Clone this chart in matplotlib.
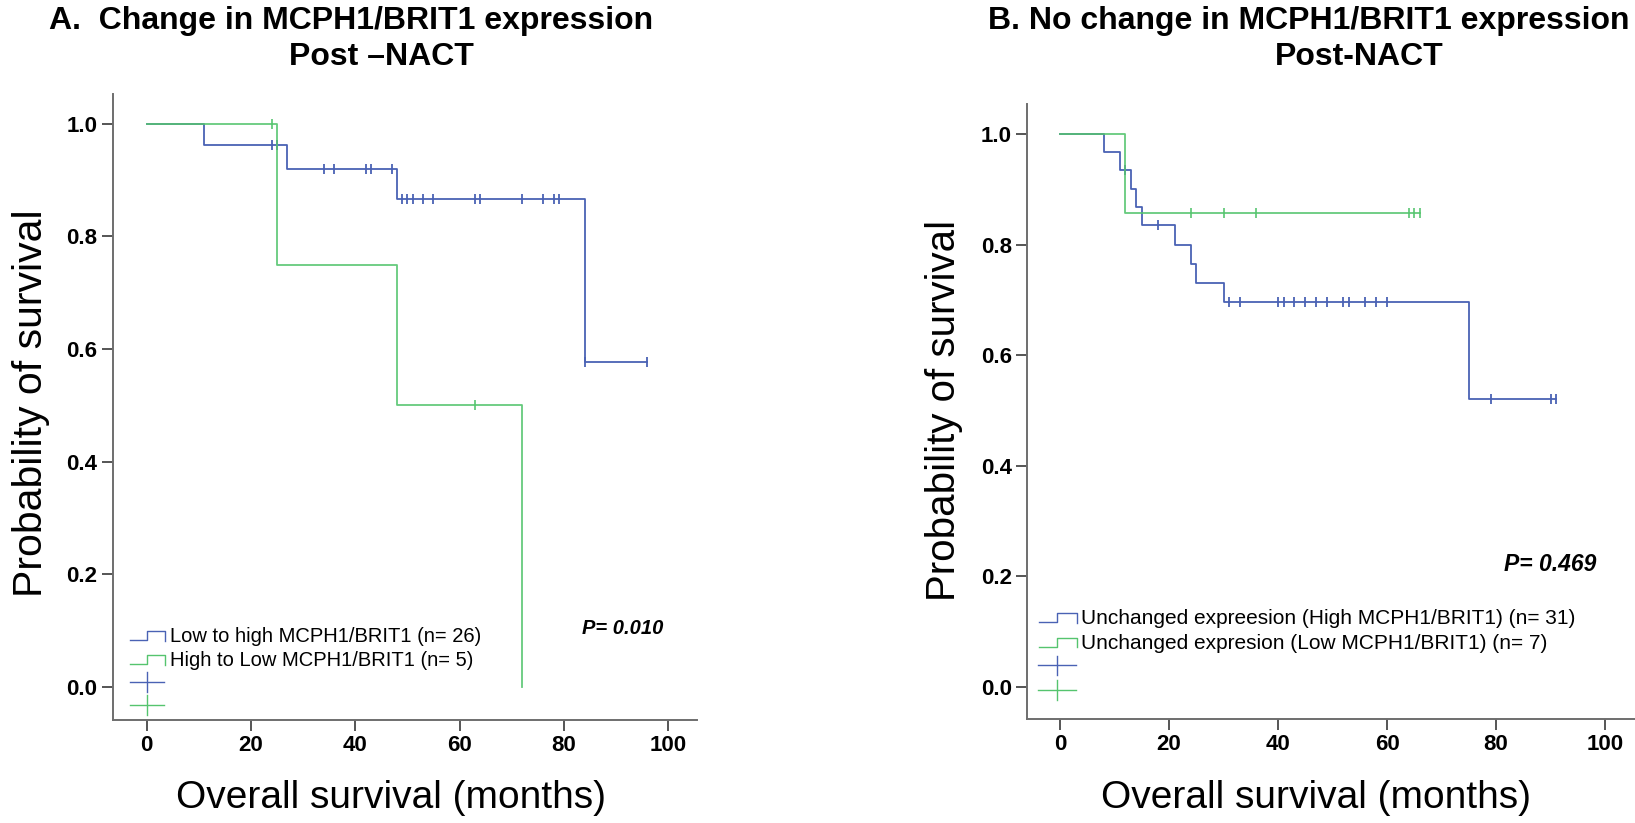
import numpy as np
import matplotlib
matplotlib.use("Agg")
import matplotlib.pyplot as plt

# ---- data -------------------------------------------------------------
# Panel A: change in MCPH1/BRIT1 expression post-NACT (time in months, 1 = death, 0 = censored)
a_low_high_time = [11, 24, 25, 27, 34, 36, 42, 43, 47, 48, 49, 49, 50, 51, 53, 55,
                   63, 64, 72, 76, 78, 78, 79, 84, 84, 96]
a_low_high_event = [1, 0, 0, 1, 0, 0, 0, 0, 0, 1, 0, 0, 0, 0, 0, 0,
                    0, 0, 0, 0, 0, 0, 0, 1, 0, 0]
a_high_low_time = [24, 25, 48, 63, 72]
a_high_low_event = [0, 1, 1, 0, 1]

# Panel B: no change in MCPH1/BRIT1 expression post-NACT
b_high_time = [8, 11, 12, 13, 14, 15, 18, 21, 24, 25, 30, 31, 31, 33, 40, 41, 41,
               43, 45, 47, 49, 52, 53, 53, 56, 58, 60, 75, 79, 90, 91]
b_high_event = [1, 1, 0, 1, 1, 1, 0, 1, 1, 1, 1, 0, 0, 0, 0, 0, 0,
                0, 0, 0, 0, 0, 0, 0, 0, 0, 0, 1, 0, 0, 0]
b_low_time = [12, 24, 30, 36, 64, 65, 66]
b_low_event = [1, 0, 0, 0, 0, 0, 0]

a_labels = ["Low to high MCPH1/BRIT1 (n= 26)", "High to Low MCPH1/BRIT1 (n= 5)"]
b_labels = ["Unchanged expreesion (High MCPH1/BRIT1) (n= 31)",
            "Unchanged expresion (Low MCPH1/BRIT1) (n= 7)"]
a_pvalue = "P= 0.010"
b_pvalue = "P= 0.469"

x_ticks = [0, 20, 40, 60, 80, 100]
y_ticks = [0.0, 0.2, 0.4, 0.6, 0.8, 1.0]

BLUE = "#4a62b4"
GREEN = "#55c46e"

plt.rcParams["font.family"] = ["Liberation Sans", "DejaVu Sans"]

W, H, DPI = 1635, 823, 100
fig = plt.figure(figsize=(W / DPI, H / DPI), dpi=DPI)


def px_box(left, right, bottom, top):
    return [left / W, 1 - bottom / H, (right - left) / W, (bottom - top) / H]


def kaplan_meier(times, events):
    t = np.asarray(times, float)
    e = np.asarray(events, int)
    xs, ys = [0.0], [1.0]
    cx, cy = [], []
    s = 1.0
    for u in np.unique(t):
        n = np.sum(t >= u)
        d = np.sum((t == u) & (e == 1))
        if d:
            s *= 1 - d / n
        xs.append(u)
        ys.append(s)
        if np.any((t == u) & (e == 0)):
            cx.append(u)
            cy.append(s)
    return xs, ys, cx, cy


def draw_curve(ax, times, events, color, alpha=1.0):
    xs, ys, cx, cy = kaplan_meier(times, events)
    ax.step(xs, ys, where="post", color=color, lw=1.3, alpha=alpha)
    ax.plot(cx, cy, ls="none", marker="|", ms=7, mew=1.3, color=color, alpha=alpha)


def style_axes(ax, xlim, ylim):
    ax.set_xlim(*xlim)
    ax.set_ylim(*ylim)
    for side in ("top", "right"):
        ax.spines[side].set_visible(False)
    for side in ("left", "bottom"):
        ax.spines[side].set_color("#6e6e6e")
        ax.spines[side].set_linewidth(1.4)
    ax.set_xticks(x_ticks, [str(v) for v in x_ticks], fontsize=16, fontweight="bold")
    ax.set_yticks(y_ticks, [f"{v:.1f}" for v in y_ticks], fontsize=16, fontweight="bold")
    ax.tick_params(direction="out", length=8, width=1.4, color="#555555", pad=3)
    ax.patch.set_alpha(0)


def draw_legend(ax, labels, colors, x0, xstep, x1, xtext, rows, plus_rows,
                plus_x, plus_hw, fontsize):
    for lab, col, y in zip(labels, colors, rows):
        lo, hi = y - 0.007, y + 0.009
        ax.plot([x0, xstep, xstep, x1, x1], [lo, lo, hi, hi, lo - 0.001],
                color=col, lw=1.0, clip_on=False)
        ax.text(xtext, y, lab, fontsize=fontsize, ha="left", va="center")
    for col, y in zip(colors, plus_rows):
        ax.plot([plus_x - plus_hw, plus_x + plus_hw], [y, y], color=col, lw=1.0,
                clip_on=False)
        ax.plot([plus_x, plus_x], [y - 0.018, y + 0.018], color=col, lw=1.0,
                clip_on=False)


# ---- panel A ------------------------------------------------------------
axA = fig.add_axes(px_box(112.6, 697, 719.5, 94))
style_axes(axA, (-6.5, 105.5), (-0.058, 1.053))
draw_curve(axA, a_low_high_time, a_low_high_event, BLUE)
draw_curve(axA, a_high_low_time, a_high_low_event, GREEN, alpha=0.9)
draw_legend(axA, a_labels, [BLUE, GREEN], -3.2, 0.1, 3.6, 4.5,
            [0.090, 0.047], [0.008, -0.032], 0.07, 3.3, 14.5)
axA.text(91.2, 0.104, a_pvalue, fontsize=14.5, fontweight="bold", style="italic",
         ha="center", va="center")

# ---- panel B ------------------------------------------------------------
axB = fig.add_axes(px_box(1027.4, 1635, 718.5, 104))
style_axes(axB, (-6, 105.5), (-0.057, 1.055))
draw_curve(axB, b_high_time, b_high_event, BLUE)
draw_curve(axB, b_low_time, b_low_event, GREEN, alpha=0.9)
draw_legend(axB, b_labels, [BLUE, GREEN], -3.8, -0.5, 3.1, 3.85,
            [0.1247, 0.0795], [0.039, -0.006], -0.5, 3.5, 15)
axB.text(89.9, 0.221, b_pvalue, fontsize=16.5, fontweight="bold", style="italic",
         ha="center", va="center")

# ---- titles and axis labels -----------------------------------------------
fig.text(351 / W, 1 - 21 / H, "A.  Change in MCPH1/BRIT1 expression",
         fontsize=23, fontweight="bold", ha="center", va="center")
fig.text(381 / W, 1 - 57 / H, "Post \u2013NACT",
         fontsize=23, fontweight="bold", ha="center", va="center")
fig.text(1309 / W, 1 - 21 / H, "B. No change in MCPH1/BRIT1 expression",
         fontsize=23, fontweight="bold", ha="center", va="center")
fig.text(1359 / W, 1 - 57 / H, "Post-NACT",
         fontsize=23, fontweight="bold", ha="center", va="center")

fig.text(31 / W, 1 - 403 / H, "Probability of survival", fontsize=29.5,
         rotation=90, ha="center", va="center")
fig.text(944 / W, 1 - 410 / H, "Probability of survival", fontsize=29,
         rotation=90, ha="center", va="center")
fig.text(391 / W, 1 - 798 / H, "Overall survival (months)", fontsize=28,
         ha="center", va="center")
fig.text(1316 / W, 1 - 798 / H, "Overall survival (months)", fontsize=28,
         ha="center", va="center")

fig.savefig("out.png", dpi=DPI, facecolor="white")
